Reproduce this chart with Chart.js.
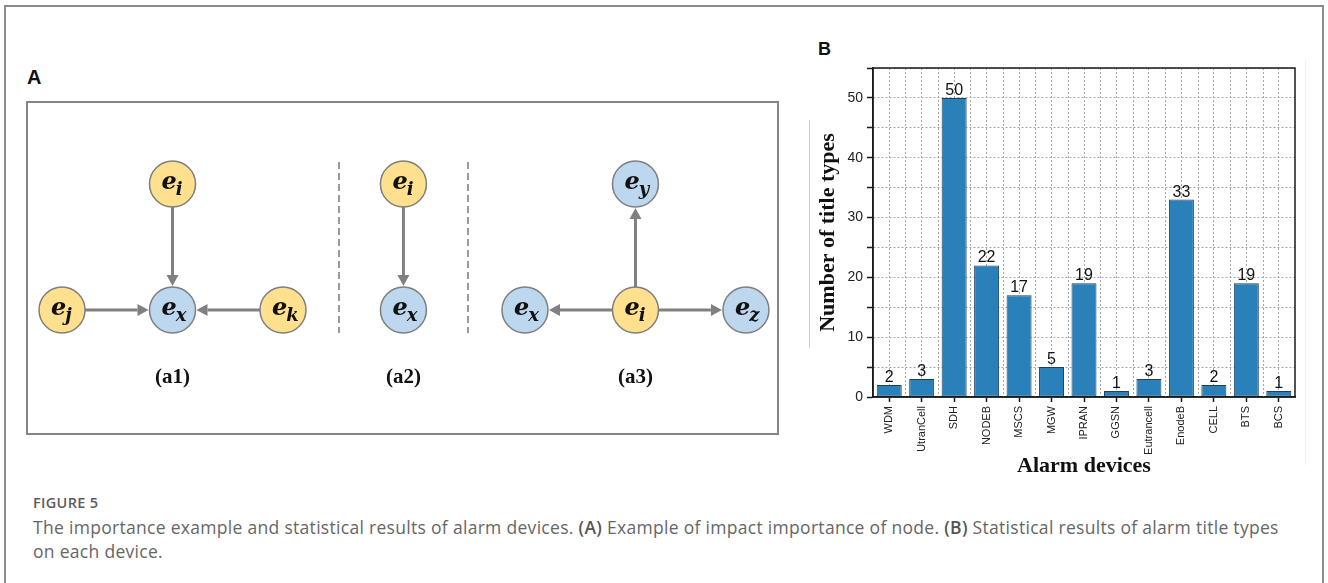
<!DOCTYPE html>
<html>
<head>
<meta charset="utf-8">
<script src="https://cdn.jsdelivr.net/npm/chart.js@4.4.0/dist/chart.umd.min.js"></script>
<style>
  body { margin: 0; width: 1328px; height: 583px; background: #fff; overflow: hidden; position: relative; font-family: "Liberation Sans", Arial, sans-serif; }
  .frame { position: absolute; left: 4px; top: 5px; width: 1320px; height: 600px; border: 2px solid #8c8c8c; border-bottom: none; box-sizing: border-box; }
  .panel-tag { position: absolute; font-weight: bold; color: #111; line-height: 24px; }
  .boxA { position: absolute; left: 26px; top: 101px; width: 753px; height: 334px; border: 2px solid #858585; box-sizing: border-box; }
  #diagram { position: absolute; left: 27px; top: 102px; }
  #chartB { position: absolute; left: 800px; top: 40px; }
  .faint { position: absolute; width: 1px; }
  .cap-head { position: absolute; left: 33px; top: 494px; font-family: "Open Sans", sans-serif; font-weight: 600; font-size: 14.5px; letter-spacing: 0.3px; color: #5c5c5c; line-height: 18px; }
  .cap { position: absolute; left: 33px; top: 515px; font-family: "Open Sans", sans-serif; font-size: 17.5px; letter-spacing: 0.3px; color: #666; line-height: 24px; white-space: nowrap; }
  .cap b { font-weight: 600; color: #555; }
</style>
</head>
<body>
<div class="frame"></div>
<div class="panel-tag" style="left:27px; top:65px; font-size:20px;">A</div>
<div class="panel-tag" style="left:818px; top:37px; font-size:18px;">B</div>
<div class="boxA"></div>
<canvas id="diagram" width="751" height="332"></canvas>
<div class="faint" style="left:809px; top:120px; height:228px; background:#cfcfcf;"></div>
<div class="faint" style="left:1305px; top:60px; height:405px; background:#efefef;"></div>
<canvas id="chartB" width="510" height="440"></canvas>
<div class="cap-head">FIGURE 5</div>
<div class="cap">The importance example and statistical results of alarm devices. <b>(A)</b> Example of impact importance of node. <b>(B)</b> Statistical results of alarm title types<br>on each device.</div>

<script>
// ---- panel B data ----
const categories = ["WDM", "UtranCell", "SDH", "NODEB", "MSCS", "MGW", "IPRAN", "GGSN", "Eutrancell", "EnodeB", "CELL", "BTS", "BCS"];
const titleTypeCounts = [2, 3, 50, 22, 17, 5, 19, 1, 3, 33, 2, 19, 1];
const yMax = 55;
const yStep = 5;
const yLabelEvery = 10;

// ---- panel A data (graph nodes in diagram units) ----
const nodeSub = ["j", "i", "x", "k", "i", "x", "x", "i", "y", "z"];
const nodeX = [0, 1, 1, 2, 3.09, 3.09, 4.19, 5.19, 5.19, 6.19];
const nodeY = [0, 1, 0, 0, 1, 0, 0, 0, 1, 0];
const nodeKind = ["src", "src", "dst", "src", "src", "dst", "dst", "src", "dst", "dst"];
const edges = [[0, 2], [1, 2], [3, 2], [4, 5], [7, 6], [7, 8], [7, 9]];
const panelNames = ["(a1)", "(a2)", "(a3)"];
const panelX = [1, 3.09, 5.19];
const panelY = -0.54;
const separatorX = [2.507, 3.674];
const separatorY = [1.175, -0.183];

const kindColors = { src: "#ffe08e", dst: "#bdd7ee" };
const edgeColor = "#808080";

const diagramPlugin = {
  id: "diagram",
  beforeDatasetsDraw(chart) {
    const ctx = chart.ctx, xs = chart.scales.x, ys = chart.scales.y;
    ctx.save();
    // dashed separators
    ctx.strokeStyle = "#9a9a9a";
    ctx.lineWidth = 2;
    ctx.setLineDash([7, 4]);
    separatorX.forEach(sx => {
      ctx.beginPath();
      ctx.moveTo(xs.getPixelForValue(sx), ys.getPixelForValue(separatorY[0]));
      ctx.lineTo(xs.getPixelForValue(sx), ys.getPixelForValue(separatorY[1]));
      ctx.stroke();
    });
    ctx.setLineDash([]);
    // arrows
    const r = 23, head = 11, half = 6;
    ctx.strokeStyle = edgeColor;
    ctx.fillStyle = edgeColor;
    ctx.lineWidth = 3;
    edges.forEach(([a, b]) => {
      const x1 = xs.getPixelForValue(nodeX[a]), y1 = ys.getPixelForValue(nodeY[a]);
      const x2 = xs.getPixelForValue(nodeX[b]), y2 = ys.getPixelForValue(nodeY[b]);
      const len = Math.hypot(x2 - x1, y2 - y1);
      const dx = (x2 - x1) / len, dy = (y2 - y1) / len;
      const sx = x1 + dx * r, sy = y1 + dy * r;
      const tx = x2 - dx * (r + 1), ty = y2 - dy * (r + 1);
      ctx.beginPath();
      ctx.moveTo(sx, sy);
      ctx.lineTo(tx - dx * head, ty - dy * head);
      ctx.stroke();
      ctx.beginPath();
      ctx.moveTo(tx, ty);
      ctx.lineTo(tx - dx * head - dy * half, ty - dy * head + dx * half);
      ctx.lineTo(tx - dx * head + dy * half, ty - dy * head - dx * half);
      ctx.closePath();
      ctx.fill();
    });
    ctx.restore();
  },
  afterDatasetsDraw(chart) {
    const ctx = chart.ctx, xs = chart.scales.x, ys = chart.scales.y;
    const meta = chart.getDatasetMeta(0);
    ctx.save();
    ctx.fillStyle = "#111";
    ctx.textBaseline = "alphabetic";
    ctx.textAlign = "left";
    meta.data.forEach((pt, i) => {
      ctx.font = 'bold italic 24px "DejaVu Serif"';
      const ex = pt.x - 11;
      ctx.fillText("e", ex, pt.y + 5);
      const w = ctx.measureText("e").width;
      ctx.font = 'bold italic 18px "DejaVu Serif"';
      ctx.fillText(nodeSub[i], ex + w - 1, pt.y + 11);
    });
    ctx.font = 'bold 21px "Liberation Serif"';
    ctx.textAlign = "center";
    ctx.textBaseline = "middle";
    panelNames.forEach((t, i) => {
      ctx.fillText(t, xs.getPixelForValue(panelX[i]), ys.getPixelForValue(panelY));
    });
    ctx.restore();
  }
};

new Chart(document.getElementById("diagram"), {
  type: "scatter",
  data: {
    datasets: [{
      data: nodeX.map((x, i) => ({ x: x, y: nodeY[i] })),
      pointRadius: 23,
      pointBackgroundColor: nodeKind.map(k => kindColors[k]),
      pointBorderColor: "#7f7f7f",
      pointBorderWidth: 1.5
    }]
  },
  options: {
    responsive: false,
    animation: false,
    events: [],
    layout: { padding: 0, autoPadding: false },
    plugins: { legend: { display: false }, tooltip: { enabled: false } },
    scales: {
      x: { display: false, min: -0.317, max: 6.48 },
      y: { display: false, min: -0.984, max: 1.651 }
    }
  },
  plugins: [diagramPlugin]
});

// ---- panel B chart ----
const gridGray = "#a6a6a6";
const barExtras = {
  id: "barExtras",
  beforeDatasetsDraw(chart) {
    // dotted lines between categories
    const ctx = chart.ctx, xs = chart.scales.x, area = chart.chartArea;
    const step = xs.getPixelForValue(1) - xs.getPixelForValue(0);
    ctx.save();
    ctx.strokeStyle = gridGray;
    ctx.lineWidth = 1;
    ctx.setLineDash([2, 2]);
    for (let i = 0; i < categories.length - 1; i++) {
      const px = Math.round(xs.getPixelForValue(i) + step / 2) + 0.5;
      ctx.beginPath();
      ctx.moveTo(px, area.top);
      ctx.lineTo(px, area.bottom);
      ctx.stroke();
    }
    ctx.restore();
  },
  afterDatasetsDraw(chart) {
    const ctx = chart.ctx, area = chart.chartArea;
    const meta = chart.getDatasetMeta(0);
    ctx.save();
    ctx.font = '16px "Liberation Sans"';
    ctx.fillStyle = "#111";
    ctx.textAlign = "center";
    ctx.textBaseline = "alphabetic";
    meta.data.forEach((bar, i) => ctx.fillText(String(titleTypeCounts[i]), bar.x, bar.y - 3));
    ctx.strokeStyle = "#1a1a1a";
    ctx.lineWidth = 1.5;
    ctx.strokeRect(area.left, area.top, area.right - area.left, area.bottom - area.top);
    ctx.restore();
  }
};

new Chart(document.getElementById("chartB"), {
  type: "bar",
  data: {
    labels: categories,
    datasets: [{
      data: titleTypeCounts,
      backgroundColor: "#2a80b9",
      borderColor: "#1d3f5e",
      borderWidth: 1,
      borderSkipped: false,
      barPercentage: 0.77,
      categoryPercentage: 1
    }]
  },
  options: {
    responsive: false,
    animation: false,
    events: [],
    layout: { padding: { top: 28, right: 15, left: 0, bottom: 0 } },
    plugins: { legend: { display: false }, tooltip: { enabled: false } },
    scales: {
      x: {
        offset: true,
        afterFit: s => { s.height = 83; },
        grid: { offset: false, color: gridGray, lineWidth: 1, tickLength: 5, tickColor: "#1a1a1a", tickWidth: 1.5, tickBorderDash: [] },
        border: { color: "#1a1a1a", width: 1.5, dash: [2, 2] },
        ticks: {
          autoSkip: false, minRotation: 90, maxRotation: 90, padding: 4,
          color: "#222", font: { family: "Liberation Sans", size: 11 }
        },
        title: {
          display: true, text: "Alarm devices", color: "#111",
          font: { family: "Liberation Serif", size: 22, weight: "bold" },
          padding: { top: 0, bottom: 0 }
        }
      },
      y: {
        min: 0,
        max: yMax,
        afterFit: s => { s.width = 73; },
        grid: { color: gridGray, lineWidth: 1, tickLength: 6, tickColor: "#1a1a1a", tickWidth: 1.5, tickBorderDash: [] },
        border: { color: "#1a1a1a", width: 1.5, dash: [2, 2] },
        ticks: {
          stepSize: yStep, padding: 4, color: "#222",
          font: { family: "Liberation Sans", size: 14 },
          callback: v => (v % yLabelEvery === 0 && v < yMax ? v : "")
        },
        title: {
          display: true, text: "Number of title types", color: "#111",
          font: { family: "Liberation Serif", size: 22, weight: "bold" },
          padding: { top: 15, bottom: 0 }
        }
      }
    }
  },
  plugins: [barExtras]
});
</script>
</body>
</html>
